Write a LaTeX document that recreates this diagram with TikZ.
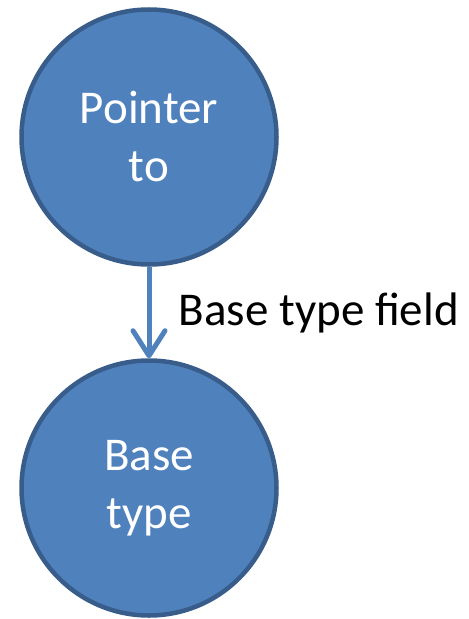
\documentclass[tikz,border=0pt]{standalone}
\usepackage[]{color}
\usepackage{tikz}
\usetikzlibrary{arrows.meta,shapes}
\usepackage{fontspec}
\setmainfont{Carlito}
\definecolor{nodefill}{HTML}{4F81BD}
\definecolor{nodeline}{HTML}{385D8A}
\begin{document}
\begin{tikzpicture}[
  typenode/.style={draw=nodeline,line width=4.5bp,circle,fill=nodefill,minimum size=255bp,inner sep=0pt,
    text=white,align=center,font=\fontsize{47bp}{58bp}\selectfont},
  fieldarrow/.style={draw=nodefill,line width=5bp,-{Straight Barb[round,length=25bp,width=32bp]}}]
\useasboundingbox (0bp,0bp) rectangle (469bp,-619bp);

\node (Ptr) at (149bp,-137bp)[typenode] {Pointer\\to};
\node (Base) at (149bp,-488bp)[typenode] {Base\\type};
\draw [fieldarrow] (Ptr) to node[pos=0.55,anchor=base west,xshift=24bp,yshift=-8bp,font=\fontsize{47bp}{58bp}\selectfont] {Base type field} (Base);
\end{tikzpicture}
\end{document}
